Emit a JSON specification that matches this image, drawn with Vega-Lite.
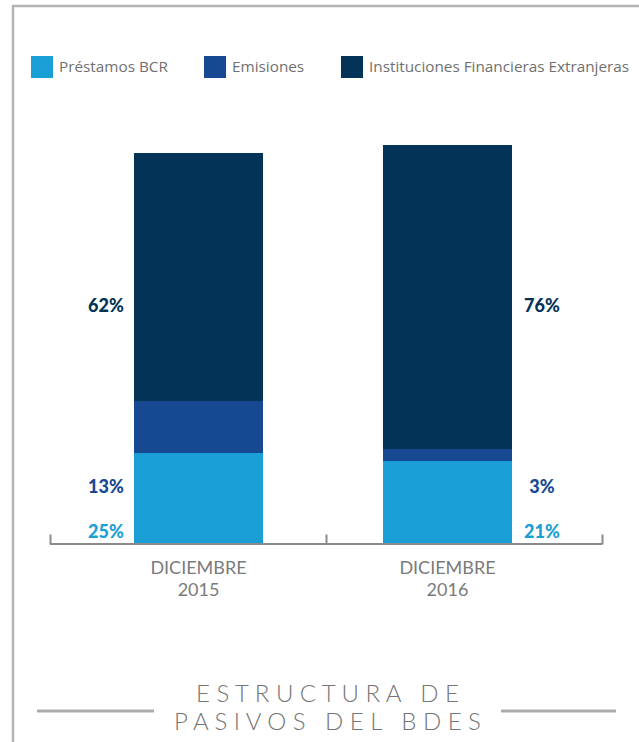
{
  "$schema": "https://vega.github.io/schema/vega-lite/v6.json",
  "width": 629,
  "height": 739,
  "autosize": {"type": "none"},
  "padding": {"left": 13, "top": 6, "right": -3, "bottom": -3},
  "background": "white",
  "config": {"view": {"stroke": "#b4b4b4", "strokeWidth": 2.5}, "font": "Lato"},
  "data": {
    "values": [
      {"year": "DICIEMBRE 2015", "serie": "Préstamos BCR", "value": 91, "pct": "25%"},
      {"year": "DICIEMBRE 2015", "serie": "Emisiones", "value": 52, "pct": "13%"},
      {"year": "DICIEMBRE 2015", "serie": "Instituciones Financieras Extranjeras", "value": 248, "pct": "62%"},
      {"year": "DICIEMBRE 2016", "serie": "Préstamos BCR", "value": 83, "pct": "21%"},
      {"year": "DICIEMBRE 2016", "serie": "Emisiones", "value": 12, "pct": "3%"},
      {"year": "DICIEMBRE 2016", "serie": "Instituciones Financieras Extranjeras", "value": 304, "pct": "76%"}
    ]
  },
  "title": {
    "text": ["E S T R U C T U R A \u00a0 D E", "P A S I V O S \u00a0 D E L \u00a0 B D E S"],
    "orient": "bottom",
    "frame": "group",
    "anchor": "start",
    "align": "center",
    "dx": 314.5,
    "offset": -62,
    "font": "Lato",
    "fontWeight": 300,
    "fontSize": 24,
    "color": "#757575",
    "lineHeight": 28
  },
  "resolve": {"scale": {"x": "independent", "y": "independent"}},
  "layer": [
    {
      "transform": [{"calculate": "indexof(['Préstamos BCR', 'Emisiones', 'Instituciones Financieras Extranjeras'], datum.serie)", "as": "stack_order"}],
      "mark": {"type": "bar"},
      "encoding": {
        "x": {
          "field": "year", "type": "nominal",
          "scale": {"type": "band", "domain": ["DICIEMBRE 2015", "DICIEMBRE 2016"], "range": [34, 586], "paddingInner": 0.4819, "paddingOuter": 0.3494},
          "axis": {"orient": "bottom", "offset": -201, "domain": false, "ticks": false, "tickSize": 0, "labelPadding": 15, "labelExpr": "split(datum.label, ' ')", "labelFont": "Lato", "labelFontSize": 18, "labelColor": "#7b7b7b", "labelLineHeight": 22, "labelAngle": 0, "title": null}
        },
        "y": {
          "field": "value", "type": "quantitative", "stack": "zero",
          "scale": {"domain": [0, 399], "range": [538, 139], "nice": false},
          "axis": null
        },
        "order": {"field": "stack_order", "type": "quantitative", "sort": "ascending"},
        "color": {
          "field": "serie", "type": "nominal",
          "sort": ["Préstamos BCR", "Emisiones", "Instituciones Financieras Extranjeras"],
          "scale": {"domain": ["Préstamos BCR", "Emisiones", "Instituciones Financieras Extranjeras"], "range": ["#199fd6", "#174992", "#033357"]},
          "legend": {"orient": "none", "legendX": 18, "legendY": 50, "direction": "horizontal", "columns": 3, "title": null, "symbolType": "square", "symbolSize": 484, "symbolStrokeWidth": 0, "symbolOpacity": 1, "labelFont": "Open Sans", "labelFontSize": 15.3, "labelColor": "#707070", "labelOffset": 6, "columnPadding": 36, "padding": 0, "labelLimit": 400}
        }
      }
    },
    {
      "transform": [{"filter": "datum.year == 'DICIEMBRE 2015'"}],
      "mark": {"type": "text", "dx": -92.5, "font": "Lato", "fontWeight": 900, "fontSize": 18, "align": "center", "baseline": "middle"},
      "encoding": {
        "x": {"field": "year", "type": "nominal", "scale": {"type": "band", "domain": ["DICIEMBRE 2015", "DICIEMBRE 2016"], "range": [34, 586], "paddingInner": 0.4819, "paddingOuter": 0.3494}, "axis": null},
        "y": {"field": "serie", "type": "nominal", "scale": {"type": "point", "domain": ["Instituciones Financieras Extranjeras", "_a", "_b", "_c", "Emisiones", "Préstamos BCR"], "range": [301, 527], "padding": 0}, "axis": null},
        "text": {"field": "pct"},
        "color": {"field": "serie", "type": "nominal", "sort": ["Préstamos BCR", "Emisiones", "Instituciones Financieras Extranjeras"], "scale": {"domain": ["Préstamos BCR", "Emisiones", "Instituciones Financieras Extranjeras"], "range": ["#199fd6", "#174992", "#033357"]}}
      }
    },
    {
      "transform": [{"filter": "datum.year == 'DICIEMBRE 2016'"}],
      "mark": {"type": "text", "dx": 94.5, "font": "Lato", "fontWeight": 900, "fontSize": 18, "align": "center", "baseline": "middle"},
      "encoding": {
        "x": {"field": "year", "type": "nominal", "scale": {"type": "band", "domain": ["DICIEMBRE 2015", "DICIEMBRE 2016"], "range": [34, 586], "paddingInner": 0.4819, "paddingOuter": 0.3494}, "axis": null},
        "y": {"field": "serie", "type": "nominal", "scale": {"type": "point", "domain": ["Instituciones Financieras Extranjeras", "_a", "_b", "_c", "Emisiones", "Préstamos BCR"], "range": [301, 527], "padding": 0}, "axis": null},
        "text": {"field": "pct"},
        "color": {"field": "serie", "type": "nominal", "sort": ["Préstamos BCR", "Emisiones", "Instituciones Financieras Extranjeras"], "scale": {"domain": ["Préstamos BCR", "Emisiones", "Instituciones Financieras Extranjeras"], "range": ["#199fd6", "#174992", "#033357"]}}
      }
    },
    {
      "data": {"values": [{}]},
      "mark": {"type": "rule", "color": "#8a8a8a", "strokeWidth": 2},
      "encoding": {
        "x": {"datum": 0, "type": "quantitative", "scale": {"domain": [0, 2], "range": [37, 589], "nice": false, "zero": false}, "axis": {"orient": "bottom", "offset": -201, "values": [0, 1, 2], "labels": false, "grid": false, "domain": false, "ticks": true, "tickSize": -10, "tickColor": "#8a8a8a", "tickWidth": 2, "title": null}},
        "x2": {"datum": 2},
        "y": {"datum": 0, "type": "quantitative", "scale": {"domain": [0, 399], "range": [538, 139], "nice": false}, "axis": null}
      }
    },
    {
      "data": {"values": [{}]},
      "mark": {"type": "rule", "color": "#ababab", "strokeWidth": 3},
      "encoding": {
        "x": {"datum": -0.0471, "type": "quantitative", "scale": {"domain": [0, 2], "range": [37, 589], "nice": false, "zero": false}, "axis": null},
        "x2": {"datum": 0.3768},
        "y": {"datum": -167, "type": "quantitative", "scale": {"domain": [0, 399], "range": [538, 139], "nice": false}, "axis": null}
      }
    },
    {
      "data": {"values": [{}]},
      "mark": {"type": "rule", "color": "#ababab", "strokeWidth": 3},
      "encoding": {
        "x": {"datum": 1.6341, "type": "quantitative", "scale": {"domain": [0, 2], "range": [37, 589], "nice": false, "zero": false}, "axis": null},
        "x2": {"datum": 2.0507},
        "y": {"datum": -167, "type": "quantitative", "scale": {"domain": [0, 399], "range": [538, 139], "nice": false}, "axis": null}
      }
    }
  ]
}
